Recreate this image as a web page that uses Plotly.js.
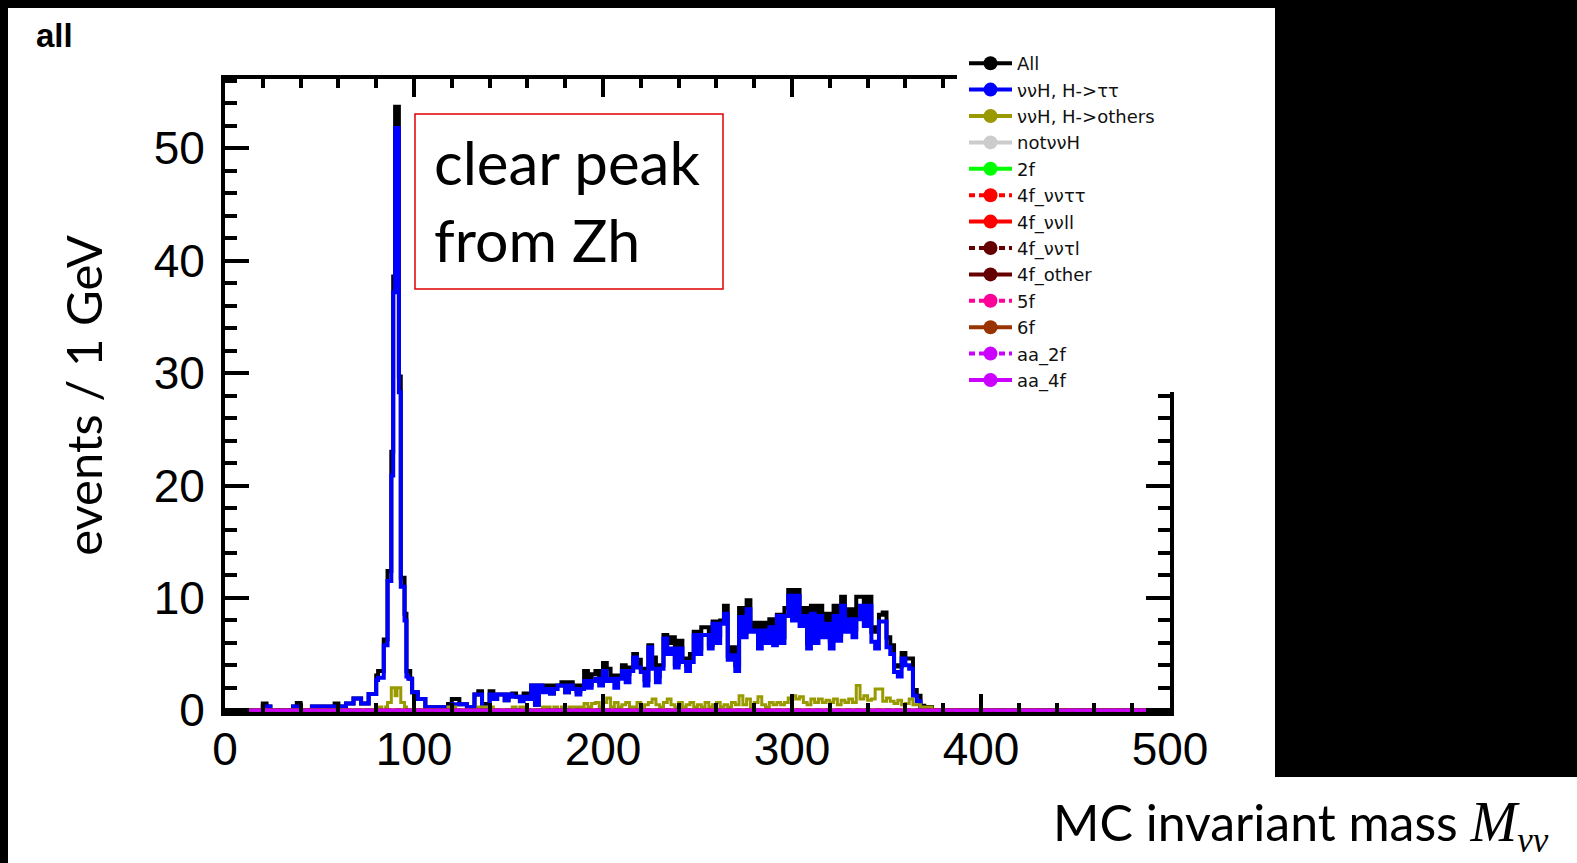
<!DOCTYPE html>
<html>
<head>
<meta charset="utf-8">
<script src="https://cdn.plot.ly/plotly-3.0.1.min.js"></script>
<style>
html,body{margin:0;padding:0;background:#fff;overflow:hidden;}
#chart{width:1577px;height:863px;}
</style>
</head>
<body>
<div id="chart"></div>
<script>
// ---------------- binning (GeV) ----------------
const xMin = 0, xMax = 500;
const coarseWidth = 2, fineWidth = 1, fineLo = 80, fineHi = 100;
function buildEdges(){
  const e = []; let x = xMin;
  while (x < xMax) { e.push(x); x += (x >= fineLo && x < fineHi) ? fineWidth : coarseWidth; }
  e.push(xMax); return e;
}
const binEdges = buildEdges();   // 261 edges -> 260 bins

// ---------------- series (events per bin) ----------------
const countsAll = [
  0,0,0,0,0,0,0,0,0,0,                                  // 0-20
  0.6,0.35,0,0,0,0,0,0,0.35,0.65,                       // 20-40
  0,0,0,0.35,0.35,0.35,0.35,0.35,0.35,0.6,              // 40-60
  0.35,0.35,0.6,0.6,1.05,1.05,0.6,0.6,1.45,1.45,        // 60-80
  3.1,3.5,3.5,3.5,6.3,6.3,12.4,12.4,23.0,38.6,          // 80-90 (1 GeV)
  53.7,53.7,29.7,11.8,11.8,8.6,3.5,3.5,2.8,1.6,         // 90-100 (1 GeV)
  1.6,1.0,1.0,0.27,0.27,0.27,0.27,0.27,0.27,0.57,       // 100-120
  1.0,1.0,0.55,0.55,0.27,0.27,1.4,1.7,0.57,0.57,        // 120-140
  1.7,1.0,1.4,1.4,0.9,1.4,1.5,1.2,1.1,1.5,              // 140-160
  1.0,2.2,0.5,2.2,1.9,2.2,1.5,2.2,2.2,2.5,              // 160-180
  1.6,2.5,2.2,1.7,2.2,3.5,2.3,3.2,3.5,2.5,              // 180-200
  4.2,3.7,3.1,2.7,3.1,4.0,3.2,3.8,5.0,4.5,              // 200-220
  3.7,2.7,5.8,4.7,3.0,4.0,6.7,6.0,6.5,4.1,              // 220-240
  6.2,4.6,4.0,5.0,7.0,5.5,7.4,7.4,5.8,7.9,              // 240-260
  6.7,8.0,9.3,4.8,5.6,4.0,9.1,7.0,9.8,7.3,              // 260-280
  7.8,6.7,7.8,6.3,8.1,6.3,8.5,6.5,9.1,10.7,             // 280-300
  9.3,10.7,8.7,9.1,6.0,9.3,6.7,9.3,7.2,8.6,             // 300-320
  6.2,9.3,6.7,10.1,7.7,9.0,7.2,10.1,10.1,8.8,           // 320-340
  10.1,7.0,7.4,8.5,8.7,6.5,5.8,4.0,3.9,5.1,             // 340-360
  4.6,4.6,1.8,1.3,0.4,0.3,0.3,0,0,0,                    // 360-380
  0,0,0,0,0,0,0,0,0,0,  0,0,0,0,0,0,0,0,0,0,            // 380-420
  0,0,0,0,0,0,0,0,0,0,  0,0,0,0,0,0,0,0,0,0,            // 420-460
  0,0,0,0,0,0,0,0,0,0,  0,0,0,0,0,0,0,0,0,0             // 460-500
];
const countsTauTau = [
  0,0,0,0,0,0,0,0,0,0,                                  // 0-20
  0.35,0.35,0,0,0,0,0,0,0.35,0.35,                      // 20-40
  0,0,0,0.35,0.35,0.35,0.35,0.35,0.35,0.35,             // 40-60
  0.35,0.35,0.6,0.6,1.05,1.05,0.6,0.6,1.45,1.45,        // 60-80
  2.7,2.9,2.9,2.9,5.8,5.8,11.5,11.5,20.9,37.2,          // 80-90 (1 GeV)
  51.8,51.8,28.3,11.0,11.0,8.0,3.0,2.8,2.8,1.6,         // 90-100 (1 GeV)
  1.6,1.0,1.0,0.27,0.27,0.27,0.27,0.27,0.27,0.27,       // 100-120
  0.55,0.55,0.55,0.55,0.27,0.27,1.4,1.4,0.27,0.27,      // 120-140
  1.4,1.0,1.4,1.4,0.9,1.4,1.2,1.2,0.8,1.2,              // 140-160
  1.0,2.2,0.5,2.2,1.6,1.9,1.5,1.9,2.2,2.2,              // 160-180
  1.6,2.2,1.9,1.4,1.9,2.6,2.0,2.6,2.8,2.2,              // 180-200
  3.5,2.6,2.8,2.0,2.8,3.5,2.5,3.5,4.7,3.8,              // 200-220
  3.4,2.2,5.6,3.7,2.5,3.7,6.4,5.0,5.5,3.8,              // 220-240
  5.5,4.3,3.5,4.3,6.7,5.0,6.7,6.7,5.5,7.7,              // 240-260
  6.0,7.7,8.6,4.5,4.9,3.5,8.3,6.5,9.0,7.0,              // 260-280
  7.1,5.5,7.1,6.0,7.4,5.8,8.4,6.0,8.4,10.2,             // 280-300
  8.0,10.2,7.5,8.4,5.5,8.6,6.0,8.4,6.5,7.7,             // 300-320
  5.5,8.4,6.2,9.3,7.0,8.1,6.5,8.1,9.3,7.5,              // 320-340
  9.3,6.1,5.5,7.9,7.9,5.6,5.0,3.4,3.0,4.6,              // 340-360
  4.0,3.7,1.3,0.8,0.1,0,0,0,0,0,                        // 360-380
  0,0,0,0,0,0,0,0,0,0,  0,0,0,0,0,0,0,0,0,0,            // 380-420
  0,0,0,0,0,0,0,0,0,0,  0,0,0,0,0,0,0,0,0,0,            // 420-460
  0,0,0,0,0,0,0,0,0,0,  0,0,0,0,0,0,0,0,0,0             // 460-500
];
const countsOthers = [
  0,0,0,0,0,0,0,0,0,0,                                  // 0-20
  0,0,0,0,0,0,0,0,0,0,                                  // 20-40
  0,0,0,0,0,0,0,0,0,0,                                  // 40-60
  0,0,0,0,0,0,0,0,0,0,                                  // 60-80
  0.3,0.3,0.3,0,0,0.3,0.7,0.7,2.0,2.0,                  // 80-90 (1 GeV)
  1.3,2.0,2.0,0.7,0.7,0.3,0,0,0,0,                      // 90-100 (1 GeV)
  0,0,0,0,0,0,0,0,0,0.3,                                // 100-120
  0.3,0,0,0,0,0,0,0.3,0.3,0.3,                          // 120-140
  0.3,0,0,0,0,0,0.3,0,0.3,0.3,                          // 140-160
  0,0,0,0,0.3,0.3,0,0.3,0,0.3,                          // 160-180
  0,0.3,0.3,0.3,0.3,0.6,0.3,0.6,0.7,0.3,                // 180-200
  0.7,1.1,0.3,0.7,0.3,0.5,0.7,0.3,0.3,0.7,              // 200-220
  0.3,0.5,0.7,1.0,0.5,0.3,0.7,1.0,0.5,0.3,              // 220-240
  0.7,0.3,0.5,0.7,0.3,0.5,0.3,0.7,0.3,0.5,              // 240-260
  0.7,0.3,0.5,0.3,0.7,0.5,1.3,0.5,1.0,0.3,              // 260-280
  0.7,1.2,0.5,0.3,0.7,0.5,0.7,0.5,0.7,1.1,              // 280-300
  1.3,1.0,1.2,0.7,0.5,1.0,0.7,1.0,0.7,0.9,              // 300-320
  0.7,1.0,0.5,0.9,0.7,1.0,0.7,2.2,1.0,1.3,              // 320-340
  0.9,1.0,1.9,1.9,0.8,1.1,0.8,0.6,0.9,0.5,              // 340-360
  0.6,1.0,0.5,0.5,0.3,0.3,0.3,0,0,0,                    // 360-380
  0,0,0,0,0,0,0,0,0,0,  0,0,0,0,0,0,0,0,0,0,            // 380-420
  0,0,0,0,0,0,0,0,0,0,  0,0,0,0,0,0,0,0,0,0,            // 420-460
  0,0,0,0,0,0,0,0,0,0,  0,0,0,0,0,0,0,0,0,0             // 460-500
];
// the remaining samples have no entries in this selection (empty histograms)
const countsEmpty = binEdges.slice(1).map(() => 0);

const seriesNames  = ['All','ννH, H-&gt;ττ','ννH, H-&gt;others','notννH','2f','4f_ννττ','4f_ννll','4f_νντl','4f_other','5f','6f','aa_2f','aa_4f'];
const seriesColors = ['#000000','#0000ff','#999900','#cccccc','#00ff00','#ff0000','#ff0000','#660000','#660000','#ff0099','#993300','#cc00ff','#cc00ff'];
const seriesDash   = ['solid','solid','solid','solid','solid','6px,4px','solid','6px,4px','solid','6px,4px','solid','6px,4px','solid'];
const seriesCounts = [countsAll, countsTauTau, countsOthers,
  countsEmpty, countsEmpty, countsEmpty, countsEmpty, countsEmpty, countsEmpty, countsEmpty, countsEmpty, countsEmpty, countsEmpty];
const seriesWidth  = [4,4,3,3,3,3,3,3,3,3,3,3,3];

const xTickVals = [0,100,200,300,400,500];
const yTickVals = [0,10,20,30,40,50];

// ---------------- layout helpers ----------------
const FIG_W = 1577, FIG_H = 863;
const M = {l:225, r:407, t:79, b:151};
const PW = FIG_W - M.l - M.r, PH = FIG_H - M.t - M.b;
const px2x = p => (p - M.l) / PW;
const px2y = p => (FIG_H - M.b - p) / PH;

function stepTrace(counts, i){
  return {
    type:'scatter', mode:'lines', x: binEdges,
    y: counts.concat([counts[counts.length-1]]),
    line:{shape:'hv', color:seriesColors[i], width:seriesWidth[i], dash: i<3 ? 'solid' : seriesDash[i]},
    showlegend:false, hoverinfo:'skip', name: seriesNames[i]
  };
}
const traces = [];
seriesCounts.forEach((c,i) => traces.push(stepTrace(c,i)));
// legend entries (ROOT style: line + marker)
seriesNames.forEach((n,i) => traces.push({
  type:'scatter', mode:'lines+markers', x:[null], y:[null], name:n,
  line:{color:seriesColors[i], width:4, dash:seriesDash[i]},
  marker:{color:seriesColors[i], size:14, symbol:'circle'},
  showlegend:true, hoverinfo:'skip'
}));

const tickFont = {family:'Liberation Sans, Arial, sans-serif', size:46, color:'#000'};
const slideFont = 'Lato, "Open Sans", sans-serif';

const layout = {
  width:FIG_W, height:FIG_H, margin:M,
  paper_bgcolor:'#ffffff', plot_bgcolor:'#ffffff',
  showlegend:true,
  xaxis:{
    range:[xMin, xMax], tickvals:xTickVals, ticktext:xTickVals.map(String),
    showline:true, linewidth:4, linecolor:'#000', mirror:'ticks',
    ticks:'inside', ticklen:18, tickwidth:4, tickcolor:'#000',
    tickfont:tickFont, ticklabelstandoff:-6,
    minor:{ticks:'inside', ticklen:9, tickwidth:4, tickcolor:'#000', dtick:20, tick0:0, showgrid:false},
    showgrid:false, zeroline:false, fixedrange:true
  },
  yaxis:{
    range:[-0.15, 56.17], tickvals:yTickVals, ticktext:yTickVals.map(String),
    showline:true, linewidth:4, linecolor:'#000', mirror:'ticks',
    ticks:'inside', ticklen:24, tickwidth:4, tickcolor:'#000',
    tickfont:tickFont, ticklabelstandoff:7,
    minor:{ticks:'inside', ticklen:12, tickwidth:4, tickcolor:'#000', dtick:2, tick0:0, showgrid:false},
    showgrid:false, zeroline:false, fixedrange:true,
    title:{text:'events / 1 GeV', font:{family:slideFont, size:49, color:'#000'}, standoff:36}
  },
  legend:{
    x:px2x(964), y:px2y(45), xanchor:'left', yanchor:'top',
    bgcolor:'rgba(255,255,255,0)', borderwidth:0,
    font:{family:'DejaVu Sans, Verdana, sans-serif', size:18, color:'#111'},
    itemwidth:43, tracegroupgap:0, traceorder:'normal'
  },
  shapes:[
    {type:'rect', xref:'paper', yref:'paper', x0:px2x(0), x1:px2x(FIG_W), y0:px2y(0), y1:px2y(8), fillcolor:'#000', line:{width:0}, layer:'below'},
    {type:'rect', xref:'paper', yref:'paper', x0:px2x(0), x1:px2x(8), y0:px2y(0), y1:px2y(FIG_H), fillcolor:'#000', line:{width:0}, layer:'below'},
    {type:'rect', xref:'paper', yref:'paper', x0:px2x(1275), x1:px2x(FIG_W), y0:px2y(0), y1:px2y(777), fillcolor:'#000', line:{width:0}, layer:'below'},
    // legend pad (hides the frame behind the legend, as in ROOT)
    {type:'rect', xref:'paper', yref:'paper', x0:px2x(957), x1:px2x(1200), y0:px2y(40), y1:px2y(392), fillcolor:'#fff', line:{width:0}, layer:'above'},
    // red annotation box
    {type:'rect', xref:'paper', yref:'paper', x0:px2x(415), x1:px2x(723), y0:px2y(114), y1:px2y(289), fillcolor:'rgba(0,0,0,0)', line:{color:'#e00000', width:1.5}, layer:'above'}
  ],
  annotations:[
    {text:'<b>all</b>', xref:'paper', yref:'paper', x:px2x(34), y:px2y(35), xanchor:'left', yanchor:'middle', showarrow:false,
     font:{family:'Liberation Sans, Arial, sans-serif', size:33, color:'#000'}},
    {text:'clear peak', xref:'paper', yref:'paper', x:px2x(432), y:px2y(162), xanchor:'left', yanchor:'middle', showarrow:false,
     font:{family:slideFont, size:60, color:'#000'}},
    {text:'from Zh', xref:'paper', yref:'paper', x:px2x(432), y:px2y(239), xanchor:'left', yanchor:'middle', showarrow:false,
     font:{family:slideFont, size:59, color:'#000'}},
    {text:'MC invariant mass <span style="font-family:Liberation Serif;font-style:italic;font-size:56px">M</span><sub><span style="font-family:Liberation Serif;font-style:italic">νν</span></sub>',
     xref:'paper', yref:'paper', x:px2x(1051), y:px2y(825), xanchor:'left', yanchor:'middle', showarrow:false,
     font:{family:slideFont, size:50, color:'#000'}}
  ]
};

Plotly.newPlot('chart', traces, layout, {displayModeBar:false, staticPlot:true});
</script>
</body>
</html>
